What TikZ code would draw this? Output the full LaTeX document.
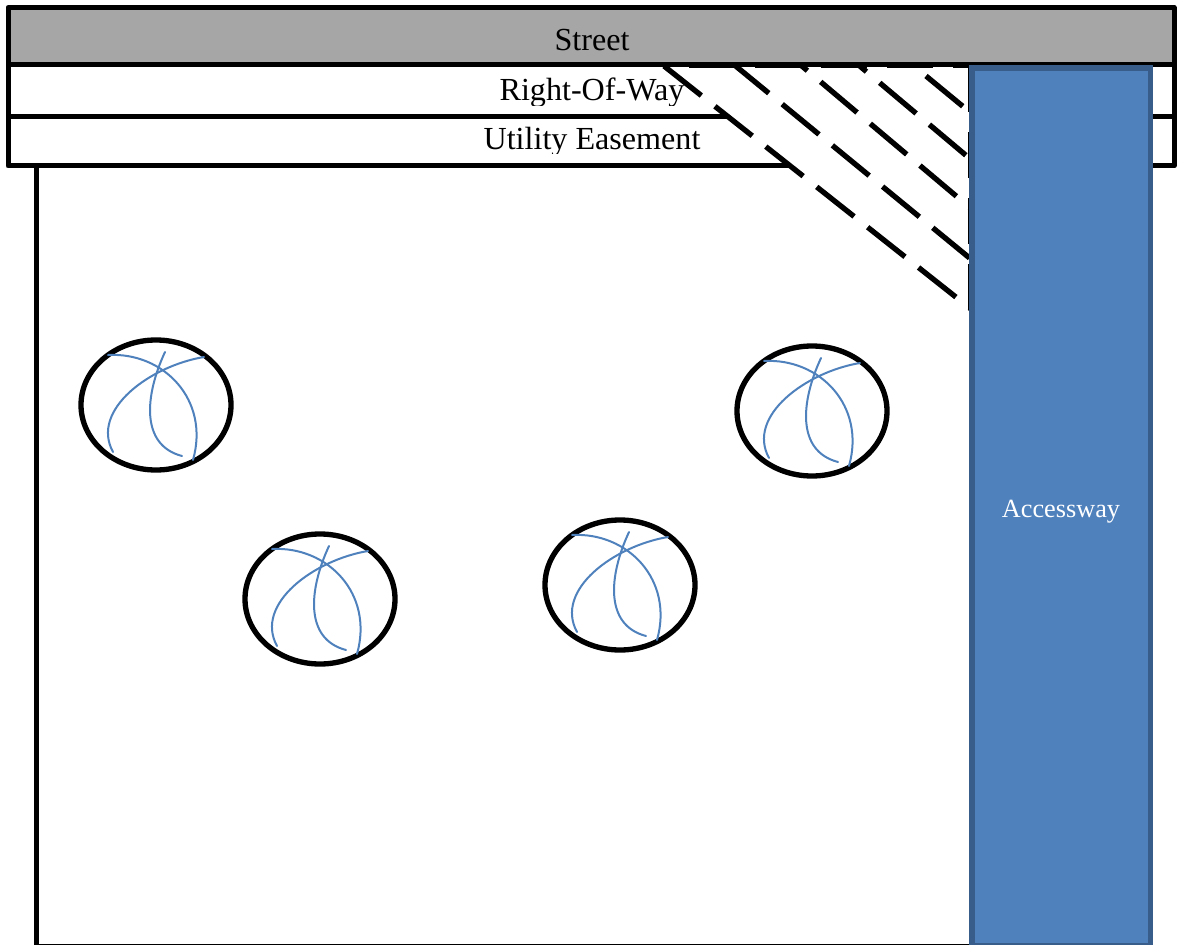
\documentclass[tikz,border=0pt]{standalone}
\usepackage{fontspec}
\setmainfont{Liberation Serif}
\definecolor{streetgray}{HTML}{A6A6A6}
\definecolor{accessfill}{HTML}{4F81BD}
\definecolor{accessedge}{HTML}{385D8A}
\tikzset{
  x=0.75pt,y=-0.75pt,
  band/.style={draw=black,line width=3.75pt,line join=round},
  hatchline/.style={draw=black,line width=4pt,dash pattern=on 35.7pt off 13pt},
  outlinedash/.style={draw=black,line width=3.6pt,dash pattern=on 34.8pt off 14.7pt},
  tree/.style={draw=black,line width=4pt},
  branch/.style={draw=accessfill,line width=1.5pt,line cap=round},
  label/.style={font=\fontsize{24.1}{24}\selectfont,inner sep=0pt,anchor=base},
  treecrown/.pic={
    \draw[tree] (0,0) ellipse [x radius=75,y radius=65];
    \draw[branch] (-48,-50) .. controls (8,-53) and (54,-5) .. (37,55);
    \draw[branch] (48,-48) .. controls (-6,-39) and (-66,5) .. (-43,47);
    \draw[branch] (9,-53) .. controls (-11,-10) and (-16,40) .. (26,51);
  }
}
\begin{document}
\begin{tikzpicture}
\useasboundingbox (0,0) rectangle (1178,945);
\clip (0,0) rectangle (1178,945);
\draw[band] (36,166) rectangle (1000,946);
\draw[band,fill=white] (8,65) rectangle (1174,116.5);
\draw[band,fill=white] (8,116.5) rectangle (1174,166);
\begin{scope}
  \clip (300,70) rectangle (800,105.5);
  \node[label] (row) at (592,101) {Right-Of-Way};
\end{scope}
\begin{scope}
  \clip (300,119) rectangle (800,153.5);
  \node[label] (util) at (592,150) {Utility Easement};
\end{scope}
\fill[white] (664,66) -- (969,308) -- (969,66) -- cycle;
\draw[hatchline] (664,66) -- (1000,332);
\draw[hatchline] (732,63) -- (1000,283);
\draw[hatchline] (771,40) -- (1000,233);
\draw[hatchline] (830,41) -- (1000,184);
\draw[hatchline] (926,76) -- (1000,137);
\draw[outlinedash] (689,65.7) -- (969,65.7);
\draw[outlinedash] (970.2,66) -- (970.2,312);
\draw[band,fill=streetgray] (8,7.5) rectangle (1174,64.5);
\node[label] (street) at (592,51) {Street};
\draw[draw=accessedge,fill=accessfill,line width=4.1pt] (972,68) rectangle (1150.5,946);
\node[font=\fontsize{19.7}{20}\selectfont,text=white,inner sep=0pt,anchor=base] (access) at (1061,517) {Accessway};
\pic at (156,405) {treecrown};
\pic at (812,411) {treecrown};
\pic at (320,599) {treecrown};
\pic at (620,585) {treecrown};
\end{tikzpicture}
\end{document}
